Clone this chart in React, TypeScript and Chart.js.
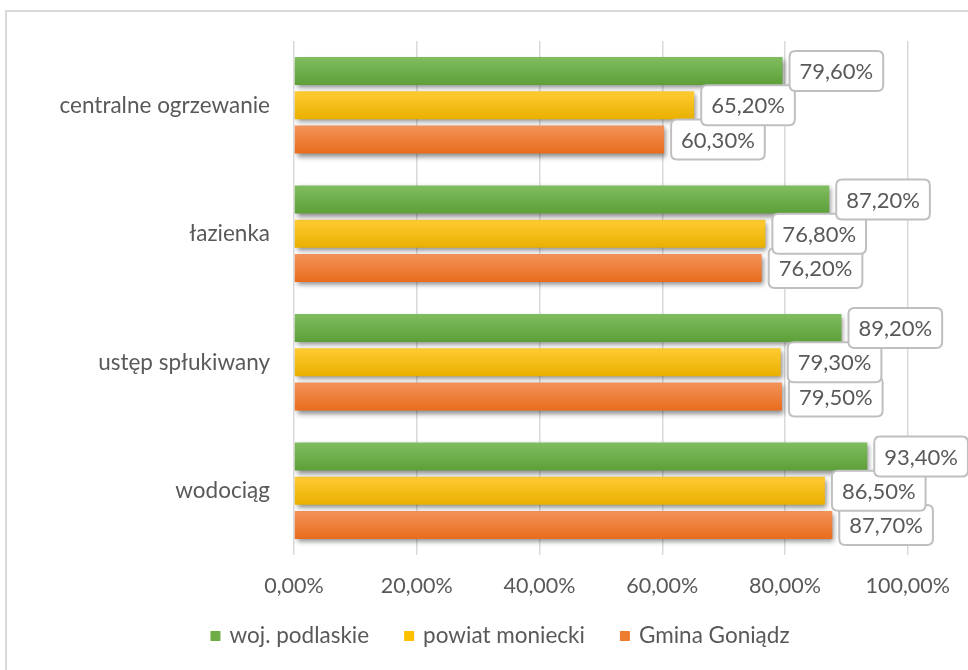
import React, { useEffect, useRef } from 'react';
import { Chart, registerables } from 'chart.js';

Chart.register(...registerables);

const categories = ['centralne ogrzewanie', 'łazienka', 'ustęp spłukiwany', 'wodociąg'];
const seriesNames = ['woj. podlaskie', 'powiat moniecki', 'Gmina Goniądz'];
const wojValues = [79.6, 87.2, 89.2, 93.4];
const powiatValues = [65.2, 76.8, 79.3, 86.5];
const gminaValues = [60.3, 76.2, 79.5, 87.7];
const xTickValues = [0, 20, 40, 60, 80, 100];

const FONT = 'Lato, "Open Sans", sans-serif';
const TEXT = '#595959';

const palette = [
  { top: '#80bd60', bottom: '#5d9f38', solid: '#70AD47' },
  { top: '#ffcb33', bottom: '#e9b000', solid: '#FFC000' },
  { top: '#f4935a', bottom: '#e86c1c', solid: '#ED7D31' },
];

function fmt(v: number): string {
  return v.toFixed(2).replace('.', ',') + '%';
}

function roundRect(ctx: CanvasRenderingContext2D, x: number, y: number, w: number, h: number, r: number) {
  ctx.beginPath();
  ctx.moveTo(x + r, y);
  ctx.lineTo(x + w - r, y);
  ctx.quadraticCurveTo(x + w, y, x + w, y + r);
  ctx.lineTo(x + w, y + h - r);
  ctx.quadraticCurveTo(x + w, y + h, x + w - r, y + h);
  ctx.lineTo(x + r, y + h);
  ctx.quadraticCurveTo(x, y + h, x, y + h - r);
  ctx.lineTo(x, y + r);
  ctx.quadraticCurveTo(x, y, x + r, y);
  ctx.closePath();
}

const styledBarsPlugin = {
  id: 'styledBars',
  beforeDatasetsDraw(chart: any) {
    const ctx: CanvasRenderingContext2D = chart.ctx;
    chart.data.datasets.forEach((_ds: any, di: number) => {
      const meta = chart.getDatasetMeta(di);
      meta.data.forEach((el: any) => {
        const h = el.height;
        const top = el.y - h / 2;
        const g = ctx.createLinearGradient(0, top, 0, top + h);
        g.addColorStop(0, palette[di].top);
        g.addColorStop(1, palette[di].bottom);
        el.options = Object.assign({}, el.options, { backgroundColor: g });
      });
    });
    ctx.save();
    ctx.shadowColor = 'rgba(0,0,0,0.45)';
    ctx.shadowBlur = 5;
    ctx.shadowOffsetX = 2;
    ctx.shadowOffsetY = 3;
  },
  afterDatasetsDraw(chart: any) {
    const ctx: CanvasRenderingContext2D = chart.ctx;
    ctx.restore();
    ctx.save();
    ctx.font = `22px ${FONT}`;
    ctx.textBaseline = 'middle';
    ctx.textAlign = 'left';
    const order = [2, 1, 0];
    order.forEach((di) => {
      const meta = chart.getDatasetMeta(di);
      const data = chart.data.datasets[di].data as number[];
      meta.data.forEach((el: any, i: number) => {
        const txt = fmt(data[i]);
        const tw = ctx.measureText(txt).width;
        const w = tw + 20;
        const h = 40;
        const x = el.x + 7;
        const y = el.y - h / 2;
        roundRect(ctx, x, y, w, h, 6);
        ctx.fillStyle = '#ffffff';
        ctx.fill();
        ctx.lineWidth = 2;
        ctx.strokeStyle = '#bfbfbf';
        ctx.stroke();
        ctx.fillStyle = TEXT;
        ctx.fillText(txt, x + 10, el.y + 1);
      });
    });
    ctx.restore();
  },
};

const legendPlugin = {
  id: 'customLegend',
  afterDraw(chart: any) {
    const ctx: CanvasRenderingContext2D = chart.ctx;
    ctx.save();
    ctx.font = `22.5px ${FONT}`;
    ctx.textBaseline = 'middle';
    ctx.textAlign = 'left';
    const box = 10;
    const gapBoxText = 9;
    const gapItems = 35;
    const widths = chart.data.datasets.map((ds: any) => box + gapBoxText + ctx.measureText(ds.label).width);
    const total = widths.reduce((a: number, b: number) => a + b, 0) + gapItems * (widths.length - 1);
    let x = 500 - total / 2;
    const y = chart.chartArea.bottom + 81;
    chart.data.datasets.forEach((ds: any, di: number) => {
      ctx.fillStyle = palette[di].solid;
      ctx.fillRect(x, y - box / 2, box, box);
      ctx.fillStyle = TEXT;
      ctx.fillText(ds.label, x + box + gapBoxText, y);
      x += widths[di] + gapItems;
    });
    ctx.restore();
  },
};

export default function App() {
  const canvasRef = useRef<HTMLCanvasElement | null>(null);

  useEffect(() => {
    if (!canvasRef.current) return;
    const chart = new Chart(canvasRef.current, {
      type: 'bar',
      data: {
        labels: categories,
        datasets: [
          { label: seriesNames[0], data: wojValues, backgroundColor: palette[0].solid },
          { label: seriesNames[1], data: powiatValues, backgroundColor: palette[1].solid },
          { label: seriesNames[2], data: gminaValues, backgroundColor: palette[2].solid },
        ],
      },
      options: {
        indexAxis: 'y',
        animation: false,
        responsive: false,
        maintainAspectRatio: false,
        devicePixelRatio: 1,
        layout: { padding: { top: 41, right: 58, left: 0, bottom: 0 } },
        datasets: {
          bar: { categoryPercentage: 0.8, barPercentage: 0.82, borderWidth: 0 },
        },
        plugins: {
          legend: { display: false },
          tooltip: { enabled: false },
        },
        scales: {
          x: {
            min: 0,
            max: 100,
            afterBuildTicks: (scale: any) => {
              scale.ticks = xTickValues.map((v) => ({ value: v }));
            },
            afterFit: (scale: any) => {
              scale.height = 115;
            },
            grid: { color: '#d9d9d9', lineWidth: 1.5, drawTicks: false },
            border: { display: false },
            ticks: {
              padding: 18,
              color: TEXT,
              font: { family: FONT, size: 21.5 },
              callback: (v: any) => fmt(Number(v)),
            },
          },
          y: {
            afterFit: (scale: any) => {
              scale.width = 294;
            },
            grid: { display: false, drawTicks: false },
            border: { display: false },
            ticks: {
              padding: 24,
              color: TEXT,
              font: { family: FONT, size: 22.5 },
            },
          },
        },
      },
      plugins: [styledBarsPlugin, legendPlugin],
    });
    return () => chart.destroy();
  }, []);

  return (
    <div style={{ position: 'fixed', left: 0, top: 0, width: 968, height: 670, background: '#ffffff', overflow: 'hidden' }}>
      <div
        style={{
          position: 'absolute',
          left: 5,
          top: 10,
          width: 1000,
          height: 700,
          borderTop: '2px solid #d9d9d9',
          borderLeft: '2px solid #d9d9d9',
          boxSizing: 'border-box',
        }}
      />
      <canvas ref={canvasRef} width={968} height={670} style={{ position: 'absolute', left: 0, top: 0, width: 968, height: 670 }} />
    </div>
  );
}
